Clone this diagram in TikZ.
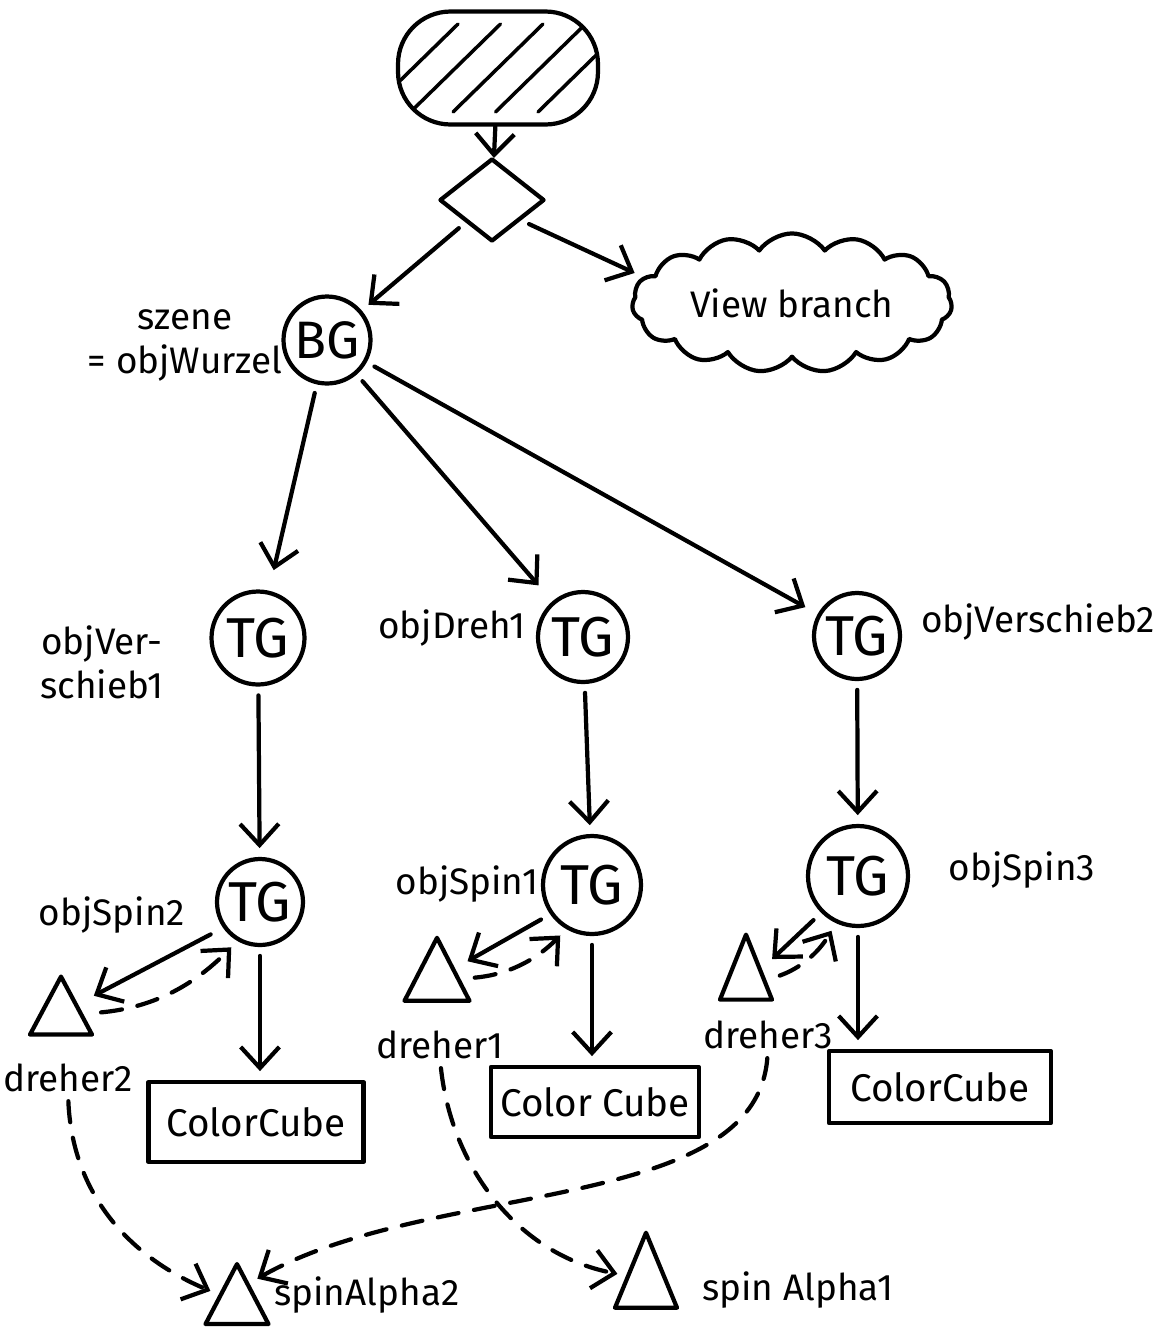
\documentclass[tikz,border=0pt]{standalone}
\usepackage{fontspec}
\setmainfont{Fira Sans}
\usetikzlibrary{arrows.meta,shapes.geometric,shapes.symbols,calc}
\begin{document}
\begin{tikzpicture}[x=0.02cm,y=-0.02cm,
  every node/.style={inner sep=0pt},
  ln/.style={line width=2.4pt, line cap=round, line join=round},
  arr/.style={ln, -{Straight Barb[length=12pt,width=22pt]}, shorten >=5pt, shorten <=5pt},
  darr/.style={arr, dash pattern=on 12pt off 9pt},
  tg/.style={ln, draw, circle, minimum size=1.84cm, font=\fontsize{32}{34}\selectfont},
  lbl/.style={font=\fontsize{21}{25}\selectfont, align=center},
  tri/.style={ln, draw, isosceles triangle, shape border rotate=90, isosceles triangle stretches},
  cube/.style={ln, draw, font=\fontsize{22}{26}\selectfont},
]
\useasboundingbox (0,0) rectangle (1175,1340);

% top
\node[ln, draw, rectangle, rounded corners=1.05cm, minimum width=4cm, minimum height=2.26cm,
  path picture={\foreach \k in {-3,...,3}
    \draw[line width=2pt] ([xshift=\k*8.5mm-9mm, yshift=2.5mm]path picture bounding box.south)
      -- ([xshift=\k*8.5mm+9mm, yshift=-2.5mm]path picture bounding box.north);}] (root) at (498,68) {};
\node[ln, draw, diamond, minimum width=2.1cm, minimum height=1.66cm] (dia) at (492,200) {};
\node[ln, draw, cloud, cloud puffs=15, cloud puff arc=110, aspect=2.6,
  minimum width=6.4cm, minimum height=2.3cm, lbl] (view) at (792,303) {View branch};
\node[tg, minimum size=1.74cm, font=\fontsize{30}{32}\selectfont] (bg) at (327,340) {BG};
\node[lbl] (lbg) at (185,345) {szene\\= objWurzel};

% second level
\node[tg, minimum size=1.86cm] (tgA) at (258,638) {TG};
\node[tg, minimum size=1.80cm] (tgB) at (583,637) {TG};
\node[tg, minimum size=1.72cm] (tgC) at (857,636) {TG};
\node[lbl] (lA) at (102,662) {objVer-\\schieb1};
\node[lbl] (lB) at (452,628) {objDreh1};
\node[lbl] (lC) at (1038,622) {objVerschieb2};

% third level
\node[tg, minimum size=1.72cm] (tgD) at (260,902) {TG};
\node[tg, minimum size=1.96cm] (tgE) at (592,885) {TG};
\node[tg, minimum size=2.0cm] (tgF) at (858,876) {TG};
\node[lbl] (lD) at (112,915) {objSpin2};
\node[lbl] (lE) at (467,884) {objSpin1};
\node[lbl] (lF) at (1022,870) {objSpin3};

% triangles
\node[tri, minimum width=1.24cm, minimum height=1.16cm] (d2) at (61,1016) {};
\node[tri, minimum width=1.3cm, minimum height=1.26cm] (d1) at (437,981) {};
\node[tri, minimum width=1.04cm, minimum height=1.3cm] (d3) at (746,982) {};
\node[tri, minimum width=1.26cm, minimum height=1.2cm] (sa2) at (237,1305) {};
\node[tri, minimum width=1.24cm, minimum height=1.5cm] (sa1) at (646,1287) {};
\node[lbl] (ld2) at (68,1078) {dreher2};
\node[lbl] (ld1) at (440,1045) {dreher1};
\node[lbl] (ld3) at (768,1035) {dreher3};
\node[lbl, anchor=west] (lsa2) at (274,1295) {spinAlpha2};
\node[lbl, anchor=west] (lsa1) at (702,1290) {spin Alpha1};

% boxes
\node[cube, minimum width=4.3cm, minimum height=1.6cm] (ccA) at (256,1122) {ColorCube};
\node[cube, minimum width=4.16cm, minimum height=1.4cm] (ccB) at (595,1102) {Color Cube};
\node[cube, minimum width=4.44cm, minimum height=1.44cm] (ccC) at (940,1087) {ColorCube};

% connectors
\draw[arr, shorten <=0pt, shorten >=0pt] (root) -- (dia);
\draw[arr] (dia) -- (bg);
\draw[arr] (dia.-35) -- (view.170);
\draw[arr, shorten >=12pt] (bg) -- (tgA);
\draw[arr, shorten >=12pt] (bg) -- (tgB);
\draw[arr, shorten >=8pt] (bg) -- (tgC);
\draw[arr] (tgA) -- (tgD);
\draw[arr] (tgB) -- (tgE);
\draw[arr] (tgC) -- (tgF);
\draw[arr] (tgD.south) -- (tgD.south |- ccA.north);
\draw[arr] (tgE.south) -- (tgE.south |- ccB.north);
\draw[arr] (tgF.south) -- (tgF.south |- ccC.north);

\draw[arr, shorten <=8pt, shorten >=10pt] (tgD.215) -- (d2.35);
\draw[darr, shorten <=10pt] (d2.5) to[bend right=20] (tgD.240);
\draw[arr, shorten <=6pt, shorten >=8pt] (tgE.215) -- (d1.35);
\draw[darr, shorten <=8pt] (d1.5) to[bend right=20] (tgE.240);
\draw[arr, shorten <=6pt, shorten >=8pt] (tgF.225) -- (d3.40);
\draw[darr, shorten <=8pt] (d3.5) to[bend right=20] (tgF.245);

\draw[darr] (ld2.south) .. controls (72,1190) and (125,1255) .. (sa2.150);
\draw[darr] (ld1.south) .. controls (452,1170) and (520,1255) .. (sa1.150);
\draw[darr] (ld3.south) .. controls (755,1215) and (430,1180) .. (sa2.60);
\end{tikzpicture}
\end{document}
